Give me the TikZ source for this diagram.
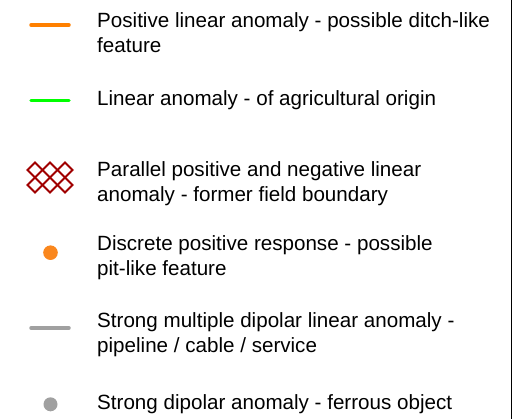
\documentclass[tikz,border=0pt]{standalone}
\usepackage{fontspec}
\setmainfont{Liberation Sans}
\definecolor{ditchorange}{RGB}{255,128,0}
\definecolor{pitorange}{RGB}{250,135,30}
\definecolor{fieldgreen}{RGB}{0,255,0}
\definecolor{boundred}{RGB}{160,0,0}
\definecolor{ferrgray}{RGB}{160,160,160}
\tikzset{
    legtext/.style = {anchor = base west, align = left, inner sep = 0pt,
        font = \fontsize{20.6}{25}\selectfont},
    legline/.style = {line width = 3.5pt, line cap = round},
    lattice/.style = {boundred, line width = 1.8pt}
}

\begin{document}
\begin{tikzpicture}[x = 1pt, y = -1pt]
    \useasboundingbox (0, 0) rectangle (519, 419);
    \draw[line width = 1.8pt] (511.5, 0) -- (511.5, 419);
    % ditch
    \draw[legline, ditchorange] (31, 25) -- (69, 25);
    \node[legtext] (ditch) at (97, 52.5) {Positive linear anomaly - possible ditch-like\\feature};
    % agricultural
    \draw[legline, fieldgreen] (31, 100.5) -- (69, 100.5);
    \node[legtext] (agri) at (97, 105.5) {Linear anomaly - of agricultural origin};
    % field boundary
    \draw[lattice] (35, 162.5) -- (42.5, 170) -- (35, 177.5) -- (27.5, 170) -- cycle;
    \draw[lattice] (50, 162.5) -- (57.5, 170) -- (50, 177.5) -- (42.5, 170) -- cycle;
    \draw[lattice] (65, 162.5) -- (72.5, 170) -- (65, 177.5) -- (57.5, 170) -- cycle;
    \draw[lattice] (35, 177.5) -- (42.5, 185) -- (35, 192.5) -- (27.5, 185) -- cycle;
    \draw[lattice] (50, 177.5) -- (57.5, 185) -- (50, 192.5) -- (42.5, 185) -- cycle;
    \draw[lattice] (65, 177.5) -- (72.5, 185) -- (65, 192.5) -- (57.5, 185) -- cycle;
    \node[legtext] (bound) at (97, 201.5) {Parallel positive and negative linear\\anomaly - former field boundary};
    % pit
    \fill[pitorange] (50.5, 252.7) circle (7.3);
    \node[legtext] (pit) at (97, 275.5) {Discrete positive response - possible\\pit-like feature};
    % pipeline
    \draw[legline, ferrgray] (31, 328) -- (69, 328);
    \node[legtext] (pipe) at (97, 352.5) {Strong multiple dipolar linear anomaly -\\pipeline / cable / service};
    % ferrous
    \fill[ferrgray] (50.5, 404.3) circle (7);
    \node[legtext] (ferrous) at (97, 409.5) {Strong dipolar anomaly - ferrous object};
\end{tikzpicture}
\end{document}
